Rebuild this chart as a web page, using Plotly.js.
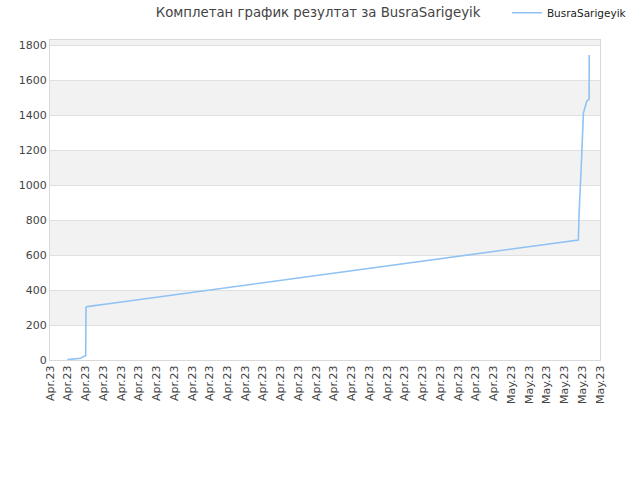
<!DOCTYPE html>
<html>
<head>
<meta charset="utf-8">
<script src="https://cdn.plot.ly/plotly-3.0.1.min.js"></script>
<style>
  html, body { margin: 0; padding: 0; background: #fff; }
  #chart { width: 640px; height: 480px; }
</style>
</head>
<body>
<div id="chart"></div>
<script>
// cumulative results over time
const times = [
    '2023-04-05 23:24', '2023-04-06 09:49', '2023-04-06 17:33', '2023-04-06 21:03',
    '2023-04-07 00:17', '2023-04-07 00:42', '2023-04-07 02:28', '2023-04-08 04:42',
    '2023-05-04 18:43', '2023-05-04 19:40', '2023-05-04 21:07', '2023-05-04 23:22',
    '2023-05-05 01:32', '2023-05-05 03:50', '2023-05-05 06:08', '2023-05-05 09:15',
    '2023-05-05 09:25'
]
const results = [2, 5, 10, 19, 25, 301, 305, 320, 686, 829, 1011, 1177, 1411, 1446, 1480, 1490, 1743]

const series_name = 'BusraSarigeyik'
const chart_title = 'Комплетан график резултат за BusraSarigeyik'

const y_max = 1829
const y_step = 200

// alternating grey bands between the y gridlines
let bands = []
for (let v = y_step; v < y_max; v += 2 * y_step) {
    bands.push({
        type: 'rect',
        xref: 'paper', yref: 'y',
        x0: 0, x1: 1,
        y0: v, y1: Math.min(v + y_step, y_max),
        fillcolor: '#f2f2f2',
        line: {width: 0},
        layer: 'below',
    })
}

const font = {family: 'DejaVu Sans, Verdana, sans-serif', size: 11, color: '#444'}

Plotly.newPlot('chart', [{
    type: 'scatter',
    mode: 'lines',
    x: times,
    y: results,
    name: series_name,
    line: {color: '#90c2f3', width: 1.6},
}], {
    width: 640,
    height: 480,
    font: font,
    paper_bgcolor: '#fff',
    plot_bgcolor: '#fff',
    title: {
        text: chart_title,
        font: {family: font.family, size: 13.3, color: '#444'},
        x: 0.497, xanchor: 'center',
        y: 0.975, yanchor: 'middle',
    },
    showlegend: true,
    legend: {
        x: 1.058, xanchor: 'right',
        y: 1.085, yanchor: 'middle',
        itemwidth: 30,
        font: {family: font.family, size: 10.5, color: '#222'},
        bgcolor: 'rgba(0,0,0,0)',
    },
    margin: {t: 40, r: 40, b: 120, l: 50, autoexpand: false},
    shapes: bands,
    xaxis: {
        type: 'date',
        range: ['2023-04-05', '2023-05-06'],
        tick0: '2023-04-05',
        dtick: 86400000,
        tickformat: '%b.%y',
        tickangle: -90,
        ticks: '',
        showgrid: false,
        zeroline: false,
        showline: true,
        mirror: true,
        linecolor: '#d9d9d9',
        linewidth: 1,
        tickfont: {family: font.family, size: 11, color: '#444'},
    },
    yaxis: {
        range: [0, y_max],
        dtick: y_step,
        ticks: '',
        showgrid: true,
        gridcolor: '#e0e0e0',
        zeroline: false,
        showline: true,
        mirror: true,
        linecolor: '#d9d9d9',
        linewidth: 1,
        tickfont: {family: font.family, size: 11, color: '#444'},
    },
}, {displayModeBar: false})
</script>
</body>
</html>
